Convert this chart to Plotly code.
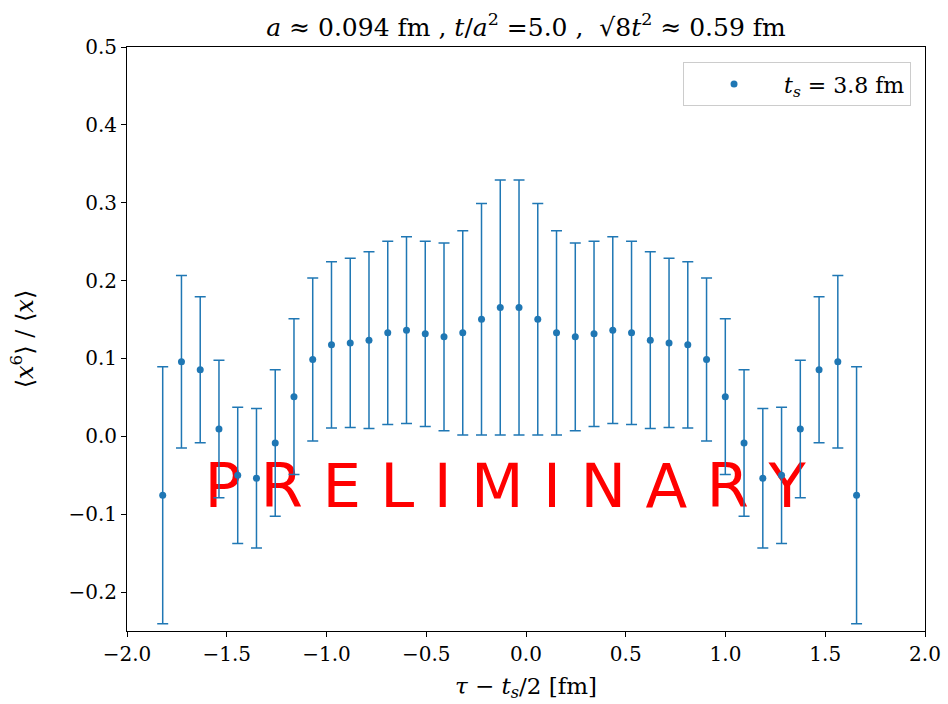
import plotly.graph_objects as go

# data
tau = [-1.821, -1.727, -1.633, -1.539, -1.445, -1.351, -1.257, -1.163, -1.069, -0.975,
       -0.881, -0.787, -0.693, -0.599, -0.505, -0.411, -0.317, -0.223, -0.129, -0.035,
       0.059, 0.153, 0.247, 0.341, 0.435, 0.529, 0.623, 0.717, 0.811, 0.905,
       0.999, 1.093, 1.187, 1.281, 1.375, 1.469, 1.563, 1.657]
ratio = [-0.0756, 0.0957, 0.0855, 0.0094, -0.0500, -0.0538, -0.0085, 0.0509, 0.0987, 0.1175,
         0.1200, 0.1235, 0.1329, 0.1363, 0.1316, 0.1278, 0.1329, 0.1504, 0.1654, 0.1654,
         0.1504, 0.1329, 0.1278, 0.1316, 0.1363, 0.1329, 0.1235, 0.1200, 0.1175, 0.0987,
         0.0509, -0.0085, -0.0538, -0.0500, 0.0094, 0.0855, 0.0957, -0.0756]
ratio_err = [0.1650, 0.1107, 0.0937, 0.0882, 0.0875, 0.0895, 0.0940, 0.1000, 0.1047, 0.1067,
             0.1088, 0.1135, 0.1176, 0.1199, 0.1190, 0.1205, 0.1312, 0.1487, 0.1637, 0.1637,
             0.1487, 0.1312, 0.1205, 0.1190, 0.1199, 0.1176, 0.1135, 0.1088, 0.1067, 0.1047,
             0.1000, 0.0940, 0.0895, 0.0875, 0.0882, 0.0937, 0.1107, 0.1650]

x_ticks = [-2.0, -1.5, -1.0, -0.5, 0.0, 0.5, 1.0, 1.5, 2.0]
y_ticks = [-0.2, -0.1, 0.0, 0.1, 0.2, 0.3, 0.4, 0.5]

C0 = "#1f77b4"
SERIF = "DejaVu Serif"

fig = go.Figure()

# watermark drawn first so the data sits on top of it
fig.add_trace(go.Scatter(
    x=[-0.105], y=[-0.071], mode="text",
    text=["P R E L I M I N A R Y"],
    textfont=dict(family="DejaVu Sans", size=61, color="red"),
    showlegend=False, hoverinfo="skip"))

fig.add_trace(go.Scatter(
    x=tau, y=ratio, mode="markers",
    marker=dict(color=C0, size=7),
    error_y=dict(type="data", array=ratio_err, visible=True, color=C0,
                 thickness=1.5, width=5.5),
    name="<i>t<sub>s</sub></i> = 3.8 fm"))

fig.update_layout(
    width=948, height=704,
    margin=dict(l=127, r=23, t=47, b=73, autoexpand=False),
    paper_bgcolor="white", plot_bgcolor="white",
    font=dict(family=SERIF, size=20, color="black"),
    title=dict(
        text="<i>a</i> ≈ 0.094 fm , <i>t</i>/<i>a</i><sup>2</sup> =5.0 ,  √8<i>t</i><sup>2</sup> ≈ 0.59 fm",
        x=0.5, xref="paper", xanchor="center",
        y=0.962, yref="container", yanchor="middle",
        font=dict(family=SERIF, size=25)),
    legend=dict(
        x=0.9825, y=0.974, xanchor="right", yanchor="top",
        bgcolor="rgba(255,255,255,0.8)", bordercolor="#cccccc", borderwidth=1,
        itemwidth=90,
        font=dict(family=SERIF, size=22)),
    showlegend=True,
)

fig.update_xaxes(
    range=[-2, 2], tickvals=x_ticks, tickformat=".1f",
    showgrid=False, zeroline=False, automargin=False,
    showline=True, linecolor="black", linewidth=1, mirror=True,
    ticks="outside", ticklen=5, tickcolor="black",
    tickfont=dict(family=SERIF, size=20),
    title=dict(text="<i>τ</i> − <i>t<sub>s</sub></i>/2 [fm]",
               font=dict(family=SERIF, size=23), standoff=12))

fig.update_yaxes(
    range=[-0.25, 0.5], tickvals=y_ticks, tickformat=".1f",
    showgrid=False, zeroline=False, automargin=False,
    showline=True, linecolor="black", linewidth=1, mirror=True,
    ticks="outside", ticklen=5, tickcolor="black",
    tickfont=dict(family=SERIF, size=20),
    title=dict(text="⟨<i>x</i><sup>6</sup>⟩ / ⟨<i>x</i>⟩",
               font=dict(family=SERIF, size=24), standoff=28))

fig.write_html("out.html")
